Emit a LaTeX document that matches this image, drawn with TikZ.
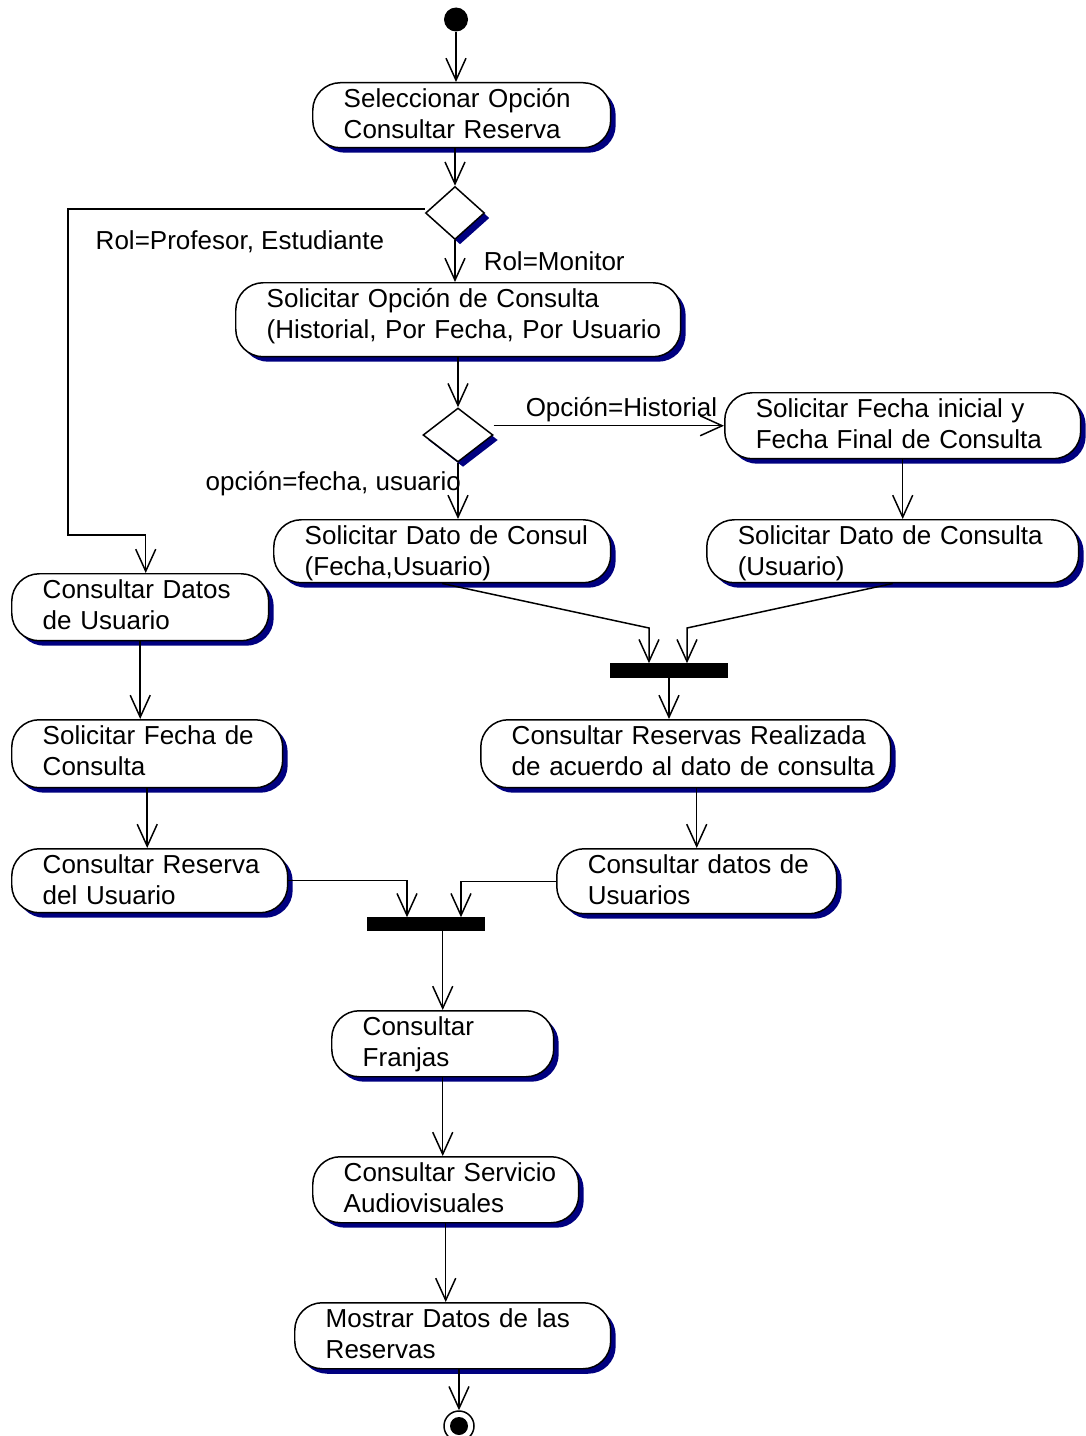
\documentclass[tikz,border=0pt]{standalone}
\usepackage{fontspec}
\setmainfont{Liberation Sans}
\usetikzlibrary{positioning, arrows.meta, shapes.geometric, shadows}
\definecolor{rsnavy}{rgb}{0.0, 0.0, 0.5}

\begin{document}
\begin{tikzpicture}[
  x=0.02cm, y=-0.02cm,
  font=\fontsize{14.8pt}{17.6pt}\selectfont,
  line width=0.85pt,
  navyshadow/.style={drop shadow={shadow xshift=0.1cm, shadow yshift=-0.1cm, fill=rsnavy, opacity=1}},
  act/.style={draw, fill=white, rounded corners=0.55cm, align=left, anchor=north west, inner xsep=0.62cm, inner ysep=0pt, text height=0.49cm, navyshadow},
  choice/.style={diamond, draw, fill=white, inner sep=0pt, navyshadow},
  syncbar/.style={fill=black, draw=black, inner sep=0pt, minimum width=2.32cm},
  flow/.style={draw, -{Straight Barb[length=0.44cm, width=0.4cm]}},
  guard/.style={anchor=base west, inner sep=0pt},
]
  \useasboundingbox (0,0) rectangle (1085,1436);

  % initial state and main column
  \node[circle, fill=black, minimum size=0.48cm, inner sep=0pt] (start) at (456,19.5) {};
  \node[act, text width=4.72cm, text depth=0.81cm] (sel) at (312,82) {Seleccionar Opción\\Consultar Reserva};
  \node[choice, minimum width=1.18cm, minimum height=1.06cm] (d1) at (455,213) {};
  \node[act, text width=7.66cm, text depth=0.99cm] (solop) at (235,282) {Solicitar Opción de Consulta\\\mbox{(Historial, Por Fecha, Por Usuario}};
  \node[choice, minimum width=1.4cm, minimum height=1.08cm] (d2) at (458,435) {};
  \node[act, text width=5.88cm, text depth=0.83cm] (hist) at (724,392) {Solicitar Fecha inicial y\\Fecha Final de Consulta};
  \node[act, text width=5.5cm, text depth=0.77cm] (datofu) at (273,519) {\mbox{Solicitar Dato de Consul}\\(Fecha,Usuario)};
  \node[act, text width=6.2cm, text depth=0.77cm] (datou) at (706,519) {Solicitar Dato de Consulta\\(Usuario)};

  % profesor / estudiante branch
  \node[act, text width=3.9cm, text depth=0.85cm] (cdu) at (11,573) {Consultar Datos\\de Usuario};
  \node[act, text width=4.18cm, text depth=0.87cm] (sfc) at (11,719) {\mbox{Solicitar Fecha de}\\Consulta};
  \node[act, text width=4.28cm, text depth=0.79cm] (cru) at (11,848) {\mbox{Consultar Reserva}\\del Usuario};

  % monitor branch after the join
  \node[syncbar, minimum height=0.26cm] (bar1) at (669,670.5) {};
  \node[act, text width=6.96cm, text depth=0.87cm] (crr) at (480,719) {\mbox{Consultar Reservas Realizada}\\\mbox{de acuerdo al dato de consulta}};
  \node[act, text width=4.36cm, text depth=0.81cm] (cdus) at (556,848) {\mbox{Consultar datos de}\\Usuarios};

  % common tail
  \node[syncbar, minimum height=0.24cm] (bar2) at (426,924) {};
  \node[act, text width=3.2cm, text depth=0.83cm] (cfr) at (331,1010) {Consultar\\Franjas};
  \node[act, text width=4.08cm, text depth=0.83cm] (csa) at (312,1156) {\mbox{Consultar Servicio}\\Audiovisuales};
  \node[act, text width=5.08cm, text depth=0.83cm] (mdr) at (294,1302) {Mostrar Datos de las\\Reservas};
  \node[circle, draw, minimum size=0.6cm, inner sep=0pt] (end) at (459,1426) {};
  \fill (end.center) circle[radius=0.18cm];

  % guards
  \node[guard] (lprof) at (95,250) {Rol=Profesor, Estudiante};
  \node[guard] (lmon) at (483,270) {Rol=Monitor};
  \node[guard] (lhist) at (525,416) {Opción=Historial};
  \node[guard] (lfecha) at (205,490) {opción=fecha, usuario};

  % transitions
  \draw[flow] (start) -- (start |- sel.north);
  \draw[flow] (d1 |- sel.south) -- (d1.north);
  \draw[flow] ([yshift=0.08cm]d1.west) -| (68,535) -| ([xshift=0.11cm]cdu.north);
  \draw[flow] (d1.south) -- (d1.south |- solop.north);
  \draw[flow] (d2 |- solop.south) -- (d2.north);
  \draw[flow] (d2.east |- hist.west) -- (hist.west);
  \draw[flow] (d2.south) -- (d2.south |- datofu.north);
  \draw[flow] (hist.south) -- (hist.south |- datou.north);
  \draw[flow] (datofu.south) -- (649,628) -- ([xshift=-0.4cm]bar1.north);
  \draw[flow] (datou.south) -- (687,628) -- ([xshift=0.36cm]bar1.north);
  \draw[flow] (bar1.south) -- (bar1.south |- crr.north);
  \draw[flow] (cdus.north |- crr.south) -- (cdus.north);
  \draw[flow] (cdu.south) -- (cdu.south |- sfc.north);
  \draw[flow] (sfc.south) -- (sfc.south |- cru.north);
  \draw[flow] (cru.east) -| ([xshift=-0.38cm]bar2.north);
  \draw[flow] (cdus.west) -| ([xshift=0.7cm]bar2.north);
  \draw[flow] (cfr.north |- bar2.south) -- (cfr.north);
  \draw[flow] (cfr.south) -- (cfr.south |- csa.north);
  \draw[flow] (csa.south) -- (csa.south |- mdr.north);
  \draw[flow] (end |- mdr.south) -- (end.north);
\end{tikzpicture}
\end{document}
